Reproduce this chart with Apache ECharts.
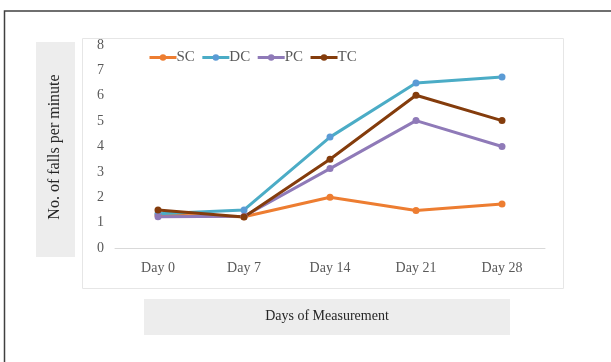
<!DOCTYPE html>
<html>
<head>
<meta charset="utf-8">
<script src="https://cdn.jsdelivr.net/npm/echarts@6/dist/echarts.min.js"></script>
<style>
  html, body { margin: 0; padding: 0; background: #fff; }
  #chart { width: 611px; height: 362px; }
</style>
</head>
<body>
<div id="chart"></div>
<script>
// Falls per minute over the measurement period, by group
const days = ['Day 0', 'Day 7', 'Day 14', 'Day 21', 'Day 28'];
const yTicks = [0, 1, 2, 3, 4, 5, 6, 7, 8];
const scValues = [1.3, 1.23, 2.0, 1.48, 1.73];
const dcValues = [1.35, 1.5, 4.37, 6.5, 6.74];
const pcValues = [1.23, 1.25, 3.13, 5.02, 4.0];
const tcValues = [1.5, 1.22, 3.5, 6.02, 5.02];

const seriesDefs = [
  { name: 'SC', data: scValues, line: '#ED7D31', dot: '#ED7D31' },
  { name: 'DC', data: dcValues, line: '#4BACC6', dot: '#5B9BD5' },
  { name: 'PC', data: pcValues, line: '#8F7AB8', dot: '#8F7AB8' },
  { name: 'TC', data: tcValues, line: '#843C0C', dot: '#843C0C' }
];

const font = '"Liberation Serif", "Times New Roman", serif';
const chart = echarts.init(document.getElementById('chart'), null, { renderer: 'canvas' });

chart.setOption({
  animation: false,
  backgroundColor: '#fff',
  textStyle: { fontFamily: font },
  grid: { left: 115, right: 66, top: 45, bottom: 114, containLabel: false },
  legend: {
    left: 148, top: 50, padding: 0,
    itemWidth: 27, itemHeight: 8, itemGap: 6,
    lineStyle: { width: 3 },
    itemStyle: { borderWidth: 0 },
    textStyle: { fontFamily: font, fontSize: 15, color: '#595959', padding: [0, 0, 0, -5] },
    data: seriesDefs.map(s => s.name)
  },
  xAxis: {
    type: 'category',
    data: days,
    boundaryGap: true,
    axisLine: { lineStyle: { color: '#D9D9D9', width: 1 } },
    axisTick: { show: false },
    axisLabel: { fontFamily: font, fontSize: 14, color: '#595959', margin: 13 }
  },
  yAxis: {
    type: 'value',
    min: yTicks[0], max: yTicks[yTicks.length - 1], interval: 1,
    axisLine: { show: false },
    axisTick: { show: false },
    splitLine: { show: false },
    axisLabel: { fontFamily: font, fontSize: 14, color: '#595959', margin: 11 }
  },
  series: seriesDefs.map(s => ({
    name: s.name,
    type: 'line',
    data: s.data,
    symbol: 'circle',
    symbolSize: 7,
    lineStyle: { color: s.line, width: 3 },
    itemStyle: { color: s.dot, borderWidth: 0 }
  })),
  graphic: [
    { type: 'rect', z: -10, shape: { x: 4.5, y: 11, width: 700, height: 500 },
      style: { fill: 'none', stroke: '#404040', lineWidth: 1.5 } },
    { type: 'rect', z: -9, shape: { x: 82.5, y: 38.5, width: 481, height: 250 },
      style: { fill: '#fff', stroke: '#E6E6E6', lineWidth: 1 } },
    { type: 'rect', z: -8, shape: { x: 36, y: 42, width: 39, height: 215 },
      style: { fill: '#EDEDED' } },
    { type: 'text', z: 10, x: 55, y: 147, rotation: Math.PI / 2,
      style: { text: 'No. of falls per minute', font: '16px ' + font, fill: '#262626',
               align: 'center', verticalAlign: 'middle' } },
    { type: 'rect', z: -8, shape: { x: 144, y: 299, width: 366, height: 36 },
      style: { fill: '#EDEDED' } },
    { type: 'text', z: 10, x: 327, y: 316,
      style: { text: 'Days of Measurement', font: '14px ' + font, fill: '#262626',
               align: 'center', verticalAlign: 'middle' } }
  ]
});
</script>
</body>
</html>
